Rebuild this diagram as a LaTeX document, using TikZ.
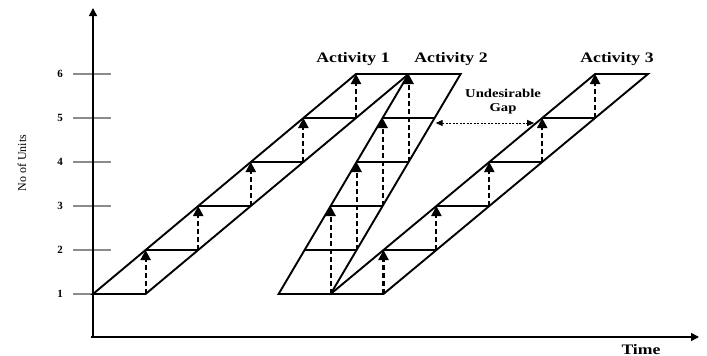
\documentclass[tikz,border=0pt]{standalone}
\usepackage{fontspec}
\setmainfont{Liberation Serif}
\newfontfamily\labfont[FakeStretch=1.22]{Liberation Serif}
\usetikzlibrary{arrows.meta,calc}
\begin{document}
\begin{tikzpicture}[x=1pt,y=-1pt,
  edge/.style={line width=1.9pt, line join=miter},
  prog/.style={line width=2.1pt, dash pattern=on 5pt off 3pt, -{Triangle[length=10pt,width=10pt]}},
  axisline/.style={line width=1.6pt, -{Triangle[length=8pt,width=8pt]}},
  tickmark/.style={line width=2.8pt, draw=black!45},
  ticklabel/.style={font=\bfseries\fontsize{11}{12}\selectfont, inner sep=0pt},
  actlabel/.style={font=\labfont\bfseries\fontsize{14.5}{16}\selectfont, inner sep=0pt, anchor=base},
  gaplabel/.style={font=\labfont\bfseries\fontsize{12}{14}\selectfont, align=center, inner sep=0pt},
  gaparrow/.style={line width=1pt, dash pattern=on 2pt off 1.5pt, {Triangle[length=7pt,width=6pt]}-{Triangle[length=7pt,width=6pt]}}
]
\useasboundingbox (0,0) rectangle (707,356);

% axes
\coordinate (O) at (93,337);
\coordinate (Ytop) at (93,8);
\coordinate (Xs) at (91,337);
\coordinate (Xend) at (699,337);

% ticks and tick labels
\foreach \k in {1,...,6} {
  \pgfmathsetmacro\yy{294-(\k-1)*44}
  \coordinate (TL\k) at (73,\yy);
  \coordinate (TR\k) at (111,\yy);
  \draw[tickmark] (TL\k) -- (TR\k);
  \node[ticklabel] (lab\k) at (60,\yy) {\k};
}
\draw[axisline] (O) -- (Ytop);
\draw[axisline] (Xs) -- (Xend);

\node[font=\fontsize{12}{12}\selectfont, rotate=90, inner sep=0pt] (ylab) at (22,163) {No of Units};
\node[font=\labfont\bfseries\fontsize{14.5}{16}\selectfont, inner sep=0pt, anchor=base] (xlab) at (641,354) {Time};

% level coordinates
\foreach \k in {1,...,6} {
  \pgfmathsetmacro\yy{294-(\k-1)*44}
  \coordinate (A1L\k) at ({93+(\k-1)*52.6},\yy);
  \coordinate (A1R\k) at ({145.6+(\k-1)*52.6},\yy);
  \coordinate (A2L\k) at ({278.6+(\k-1)*26},\yy);
  \coordinate (A2R\k) at ({330.6+(\k-1)*26},\yy);
  \coordinate (A3L\k) at ({330.6+(\k-1)*52.9},\yy);
  \coordinate (A3R\k) at ({383.5+(\k-1)*52.9},\yy);
}

% Activity 1
\draw[edge] (A1L1) -- (A1L6) -- (A1R6) -- (A1R1) -- cycle;
\foreach \k in {2,...,5} \draw[edge] (A1L\k) -- (A1R\k);
\foreach \k [evaluate=\k as \n using int(\k+1)] in {1,...,5} \draw[prog] (A1R\k) -- (A1L\n);

% Activity 2
\draw[edge] (A2L1) -- (A2L6) -- (A2R6) -- (A2R1) -- cycle;
\foreach \k in {2,...,5} \draw[edge] (A2L\k) -- (A2R\k);
\foreach \k [evaluate=\k as \n using int(\k+2)] in {1,...,4} \draw[prog] (A2R\k) -- (A2L\n);

% Activity 3
\draw[edge] (A3L1) -- (A3L6) -- (A3R6) -- (A3R1) -- cycle;
\foreach \k in {2,...,5} \draw[edge] (A3L\k) -- (A3R\k);
\foreach \k [evaluate=\k as \n using int(\k+1)] in {1,...,5} \draw[prog] (A3R\k) -- (A3L\n);

% labels
\node[actlabel] (act1) at (353,62) {Activity 1};
\node[actlabel] (act2) at (451,62) {Activity 2};
\node[actlabel] (act3) at (617,62) {Activity 3};

% undesirable gap
\coordinate (gapL) at ($(A2R1)!{(294-123)/220}!(A2R6)$);
\coordinate (gapR) at ($(A3L1)!{(294-123)/220}!(A3L6)$);
\draw[gaparrow, shorten <=4pt, shorten >=2pt] (gapL) -- (gapR);
\node[gaplabel] (gap) at (503,102) {Undesirable\\Gap};
\end{tikzpicture}
\end{document}
